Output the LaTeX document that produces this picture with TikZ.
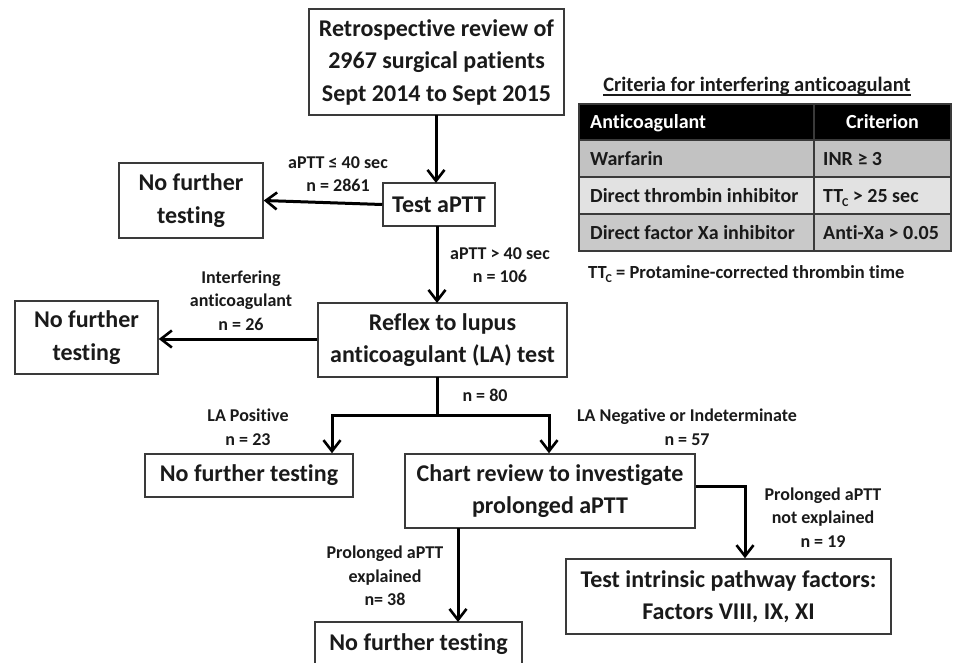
\documentclass[tikz,border=0pt]{standalone}
\usepackage{fontspec}
\setmainfont{Carlito}[Ligatures=NoCommon]
\usetikzlibrary{arrows.meta}
\definecolor{txt}{HTML}{1A1A1A}
\definecolor{boxgray}{HTML}{3A3A3A}
\definecolor{rowA}{HTML}{C2C2C2}
\definecolor{rowB}{HTML}{E2E2E2}
\definecolor{rowC}{HTML}{C9C9C9}
\newcommand\ttcsub{TT\kern-0.06em\raisebox{-0.45ex}{\fontsize{12}{12}\selectfont C}}
\tikzset{
  box/.style={draw=boxgray, line width=1.5pt, fill=white, align=center, inner sep=0pt,
    text=txt, font=\fontsize{24}{32.5}\selectfont\bfseries},
  lbl/.style={align=center, text=txt, inner sep=0pt, font=\fontsize{18}{23.5}\selectfont\bfseries},
  arr/.style={line width=3pt, draw=black, -{Straight Barb[length=11pt,width=17pt,line width=2.6pt]}},
  ln/.style={line width=3pt, draw=black},
  tbl/.style={text=txt, inner sep=0pt, text height=15pt, text depth=2pt, font=\fontsize{20}{22}\selectfont\bfseries},
  tblline/.style={draw=boxgray, line width=1.5pt}
}
\begin{document}
\begin{tikzpicture}[x=1pt,y=-1pt]
\clip (0,0) rectangle (956,662);
\fill[white] (0,0) rectangle (956,662);

% boxes
\node[box, minimum width=255pt, minimum height=106pt] (top) at (436.5,62) {Retrospective review of\\2967 surgical patients\\Sept 2014 to Sept 2015};
\node[box, minimum width=112pt, minimum height=43pt] (aptt) at (439,204.5) {Test aPTT};
\node[box, minimum width=144pt, minimum height=75pt] (nf1) at (191,200.5) {No further\\testing};
\node[box, minimum width=249pt, minimum height=74pt] (reflex) at (442.5,340) {Reflex to lupus\\anticoagulant (LA) test};
\node[box, minimum width=143pt, minimum height=73pt] (nf2) at (86.5,337.5) {No further\\testing};
\node[box, minimum width=208pt, minimum height=43pt] (nf3) at (249,475.5) {No further testing};
\node[box, minimum width=290pt, minimum height=74pt] (chart) at (550,491) {Chart review to investigate\\prolonged aPTT};
\node[box, minimum width=325pt, minimum height=75pt] (intr) at (728.5,596.5) {Test intrinsic pathway factors:\\Factors VIII, IX, XI};
\node[box, minimum width=207pt, minimum height=44pt] (nf4) at (418.5,644) {No further testing};

% connectors
\coordinate (j1) at (437,415);
\coordinate (bl) at (332,415);
\coordinate (br) at (549,415);
\coordinate (rc) at (745,486);
\draw[arr] (436,115) -- (436,183);
\draw[arr] (aptt.west) -- (nf1.east);
\draw[arr] (437,226) -- (437,303);
\draw[arr] (reflex.west |- 0,339) -- (nf2.east |- 0,339);
\draw[ln] (437,377) -- (j1);
\draw[ln, line cap=rect] (bl) -- (br);
\draw[arr] (bl) -- (bl |- nf3.north);
\draw[arr] (br) -- (br |- chart.north);
\draw[arr] (chart.east |- rc) -| (rc |- intr.north);
\draw[arr] (458,528) -- (458,622);

% labels
\node[lbl] (l1) at (338,174) {aPTT ≤ 40 sec\\n = 2861};
\node[lbl] (l2) at (500,265) {aPTT > 40 sec\\n = 106};
\node[lbl] (l3) at (241,300.5) {Interfering\\anticoagulant\\n = 26};
\node[lbl] (l4) at (485,395) {n = 80};
\node[lbl] (l5) at (248,427) {LA Positive\\n = 23};
\node[lbl] (l6) at (687,427) {LA Negative or Indeterminate\\n = 57};
\node[lbl] (l7) at (823,517.5) {Prolonged aPTT\\not explained\\n = 19};
\node[lbl] (l8) at (385,576) {Prolonged aPTT\\explained\\n= 38};

% table
\node[tbl, font=\fontsize{20.5}{22}\selectfont\bfseries] (title) at (757,85) {Criteria for interfering anticoagulant};
\draw[line width=1.3pt, txt] ([yshift=-3.5pt]title.base west) -- ([yshift=-3.5pt]title.base east);
\fill[black] (579,104) rectangle (951,140);
\fill[rowA] (579,140) rectangle (951,177);
\fill[rowB] (579,177) rectangle (951,214);
\fill[rowC] (579,214) rectangle (951,251);
\draw[tblline] (579,104) rectangle (951,251);
\draw[tblline] (579,140) -- (951,140);
\draw[tblline] (579,177) -- (951,177);
\draw[tblline] (579,214) -- (951,214);
\draw[tblline] (814,104) -- (814,251);
\node[tbl, text=white, anchor=west] (h1) at (590,122) {Anticoagulant};
\node[tbl, text=white] (h2) at (882.5,122) {Criterion};
\node[tbl, anchor=west] (r1a) at (590,158.5) {Warfarin};
\node[tbl, anchor=west] (r1b) at (823,158.5) {INR ≥ 3};
\node[tbl, anchor=west] (r2a) at (590,195.5) {Direct thrombin inhibitor};
\node[tbl, anchor=west] (r2b) at (823,195.5) {\ttcsub{} > 25 sec};
\node[tbl, anchor=west] (r3a) at (590,232.5) {Direct factor Xa inhibitor};
\node[tbl, anchor=west] (r3b) at (823,232.5) {Anti-Xa > 0.05};
\node[tbl, anchor=west, font=\fontsize{18.5}{20}\selectfont\bfseries] (foot) at (588,272) {\ttcsub{} = Protamine-corrected thrombin time};
\end{tikzpicture}
\end{document}
